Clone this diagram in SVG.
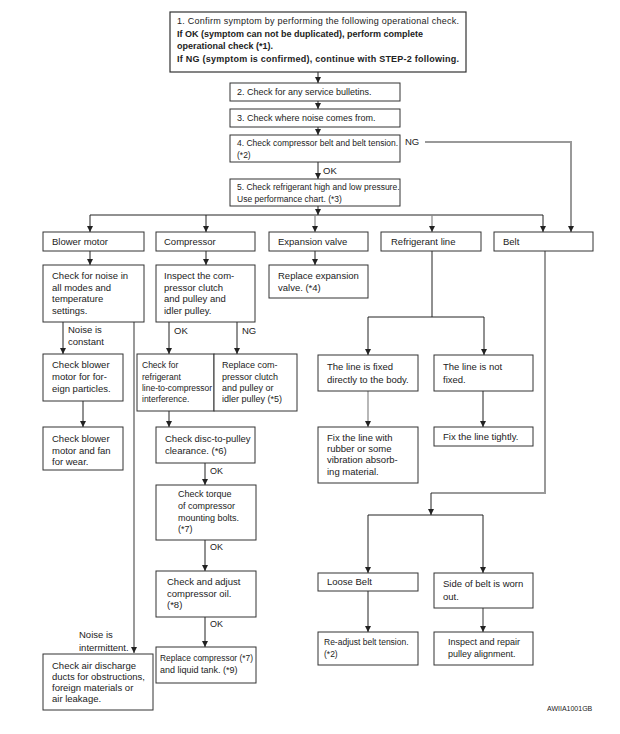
<svg xmlns="http://www.w3.org/2000/svg" width="620" height="734" viewBox="0 0 620 734">
<defs>
<marker id="ahd" markerWidth="6" markerHeight="6" refX="3" refY="6" markerUnits="userSpaceOnUse" viewBox="0 0 6 6">
<path d="M0,0 L6,0 L3,6 Z" fill="#222"/>
</marker>
<style>
rect{fill:#fff;stroke:#333;stroke-width:1}
text{font-family:"Liberation Sans",Arial,sans-serif;fill:#222;font-size:9.5px}
.s{font-size:8.5px}
.m{font-size:9px}
.b{font-weight:bold}
.t{font-size:7px}
.k{fill:none;stroke:#222;stroke-width:1}
.g{fill:none;stroke:#999;stroke-width:2}
.gt{fill:none;stroke:#888;stroke-width:1.2}
</style>
</defs>
<rect x="0" y="0" width="620" height="734" style="fill:#fff;stroke:none"/>

<g id="connectors">
<path class="k" d="M318,72 V83" marker-end="url(#ahd)"/>
<path class="k" d="M318,101 V109" marker-end="url(#ahd)"/>
<path class="k" d="M318,127 V135" marker-end="url(#ahd)"/>
<path class="k" d="M318,162 V179" marker-end="url(#ahd)"/>
<path class="g" d="M425,142 H571 V232" marker-end="url(#ahd)"/>
<path class="k" d="M318,206 V215" marker-end="url(#ahd)"/>
<path class="k" d="M90,215 H543"/>
<path class="k" d="M90,215 V232" marker-end="url(#ahd)"/>
<path class="k" d="M206,215 V232" marker-end="url(#ahd)"/>
<path class="gt" d="M315,215 V232" marker-end="url(#ahd)"/>
<path class="gt" d="M432,215 V232" marker-end="url(#ahd)"/>
<path class="k" d="M543,215 V232" marker-end="url(#ahd)"/>
<path class="k" d="M90,251 V265" marker-end="url(#ahd)"/>
<path class="k" d="M206,251 V265" marker-end="url(#ahd)"/>
<path class="k" d="M315,251 V265" marker-end="url(#ahd)"/>
<path class="k" d="M63,322 V354" marker-end="url(#ahd)"/>
<path class="k" d="M83,401 V427" marker-end="url(#ahd)"/>
<path class="g" d="M134,322 V653" marker-end="url(#ahd)"/>
<path class="k" d="M169,322 V354" marker-end="url(#ahd)"/>
<path class="k" d="M237,322 V354" marker-end="url(#ahd)"/>
<path class="k" d="M169,411 V427" marker-end="url(#ahd)"/>
<path class="k" d="M205,463 V485" marker-end="url(#ahd)"/>
<path class="k" d="M205,540 V571" marker-end="url(#ahd)"/>
<path class="k" d="M205,617 V647" marker-end="url(#ahd)"/>
<path class="k" d="M432,251 V317 M368,317 H484"/>
<path class="k" d="M368,317 V355" marker-end="url(#ahd)"/>
<path class="k" d="M484,317 V355" marker-end="url(#ahd)"/>
<path class="gt" d="M368,391 V427" marker-end="url(#ahd)"/>
<path class="k" d="M483,391 V427" marker-end="url(#ahd)"/>
<path class="g" d="M545,251 V493 H431"/>
<path class="k" d="M431,493 V515" marker-end="url(#ahd)"/>
<path class="k" d="M368,515 H483"/>
<path class="k" d="M368,515 V573" marker-end="url(#ahd)"/>
<path class="k" d="M483,515 V573" marker-end="url(#ahd)"/>
<path class="k" d="M368,591 V632" marker-end="url(#ahd)"/>
<path class="g" d="M483,608 V632" marker-end="url(#ahd)"/>
</g>

<g id="labels">
<text x="405" y="145">NG</text>
<text x="323" y="174">OK</text>
<text x="68" y="333">Noise is</text>
<text x="68" y="345">constant</text>
<text x="174" y="334">OK</text>
<text x="242" y="334">NG</text>
<text x="210" y="474" class="m">OK</text>
<text x="210" y="550" class="m">OK</text>
<text x="210" y="627" class="m">OK</text>
<text x="79" y="638">Noise is</text>
<text x="79" y="651">intermittent.</text>
<text x="547" y="711" class="t">AWIIA1001GB</text>
</g>

<g id="n1">
<rect x="170" y="12" width="296" height="60" style="stroke-width:1.2"/>
<text x="177" y="24" class="m" textLength="282">1. Confirm symptom by performing the following operational check.</text>
<text x="177" y="37" class="m b">If OK (symptom can not be duplicated), perform complete</text>
<text x="177" y="49" class="m b">operational check (*1).</text>
<text x="177" y="62" class="m b" textLength="282">If NG (symptom is confirmed), continue with STEP-2 following.</text>
</g>
<g id="n2"><rect x="230" y="83" width="170" height="18"/><text x="237" y="95" class="m">2. Check for any service bulletins.</text></g>
<g id="n3"><rect x="230" y="109" width="170" height="18"/><text x="237" y="121" class="m">3. Check where noise comes from.</text></g>
<g id="n4"><rect x="230" y="135" width="170" height="27"/><text x="237" y="146" class="s">4. Check compressor belt and belt tension.</text><text x="237" y="158" class="s">(*2)</text></g>
<g id="n5"><rect x="230" y="179" width="170" height="27"/><text x="237" y="190" class="s">5. Check refrigerant high and low pressure.</text><text x="237" y="202" class="s">Use performance chart. (*3)</text></g>

<g id="blower"><rect x="43" y="232" width="101" height="19"/><text x="52" y="245">Blower motor</text></g>
<g id="compressor"><rect x="156" y="232" width="99" height="19"/><text x="164" y="245">Compressor</text></g>
<g id="expansion"><rect x="269" y="232" width="99" height="19"/><text x="278" y="245">Expansion valve</text></g>
<g id="refline"><rect x="381" y="232" width="100" height="19"/><text x="391" y="245">Refrigerant line</text></g>
<g id="belt"><rect x="494" y="232" width="99" height="19"/><text x="503" y="245">Belt</text></g>

<g id="blower-check"><rect x="43" y="265" width="101" height="57"/>
<text x="52" y="279">Check for noise in</text><text x="52" y="291">all modes and</text><text x="52" y="302">temperature</text><text x="52" y="314">settings.</text></g>
<g id="comp-inspect"><rect x="156" y="265" width="99" height="57"/>
<text x="164" y="279">Inspect the com-</text><text x="164" y="291">pressor clutch</text><text x="164" y="302">and pulley and</text><text x="164" y="314">idler pulley.</text></g>
<g id="exp-replace"><rect x="269" y="265" width="99" height="33"/>
<text x="278" y="279">Replace expansion</text><text x="278" y="291">valve. (*4)</text></g>

<g id="blower-particles"><rect x="43" y="354" width="80" height="47"/>
<text x="52" y="368">Check blower</text><text x="52" y="380">motor for for-</text><text x="52" y="392">eign particles.</text></g>
<g id="blower-fan"><rect x="43" y="427" width="80" height="43"/>
<text x="52" y="442">Check blower</text><text x="52" y="454">motor and fan</text><text x="52" y="465">for wear.</text></g>
<g id="air-ducts"><rect x="43" y="654" width="110" height="56"/>
<text x="52" y="669">Check air discharge</text><text x="52" y="680">ducts for obstructions,</text><text x="52" y="691">foreign materials or</text><text x="52" y="702">air leakage.</text></g>

<g id="comp-interf"><rect x="137" y="354" width="77" height="57"/>
<text x="142" y="368" class="s">Check for</text><text x="142" y="380" class="s">refrigerant</text><text x="142" y="391" class="s" textLength="70">line-to-compressor</text><text x="142" y="402" class="s">interference.</text></g>
<g id="comp-replace-clutch"><rect x="214" y="354" width="83" height="57"/>
<text x="222" y="368" class="m">Replace com-</text><text x="222" y="380" class="m">pressor clutch</text><text x="222" y="391" class="m">and pulley or</text><text x="222" y="402" class="m">idler pulley (*5)</text></g>
<g id="comp-disc"><rect x="156" y="427" width="99" height="36"/>
<text x="165" y="442">Check disc-to-pulley</text><text x="165" y="454">clearance. (*6)</text></g>
<g id="comp-torque"><rect x="156" y="485" width="100" height="55"/>
<text x="178" y="497" class="m">Check torque</text><text x="178" y="509" class="m">of compressor</text><text x="178" y="521" class="m">mounting bolts.</text><text x="178" y="532" class="m">(*7)</text></g>
<g id="comp-oil"><rect x="156" y="571" width="100" height="46"/>
<text x="167" y="585">Check and adjust</text><text x="167" y="597">compressor oil.</text><text x="167" y="608">(*8)</text></g>
<g id="comp-replace"><rect x="156" y="647" width="100" height="36"/>
<text x="160" y="661" class="m" textLength="93" lengthAdjust="spacingAndGlyphs">Replace compressor (*7)</text><text x="160" y="673" class="m">and liquid tank. (*9)</text></g>

<g id="line-fixed"><rect x="318" y="355" width="100" height="36"/>
<text x="327" y="370">The line is fixed</text><text x="327" y="383">directly to the body.</text></g>
<g id="line-notfixed"><rect x="434" y="355" width="99" height="36"/>
<text x="443" y="370">The line is not</text><text x="443" y="383">fixed.</text></g>
<g id="fix-rubber"><rect x="318" y="427" width="100" height="56"/>
<text x="327" y="441">Fix the line with</text><text x="327" y="452">rubber or some</text><text x="327" y="463">vibration absorb-</text><text x="327" y="475">ing material.</text></g>
<g id="fix-tight"><rect x="434" y="427" width="99" height="19"/>
<text x="443" y="440">Fix the line tightly.</text></g>

<g id="loose-belt"><rect x="318" y="573" width="100" height="18"/><text x="327" y="585">Loose Belt</text></g>
<g id="side-belt"><rect x="434" y="573" width="99" height="35"/>
<text x="443" y="587">Side of belt is worn</text><text x="443" y="600">out.</text></g>
<g id="readjust"><rect x="318" y="632" width="100" height="33"/>
<text x="324" y="645" class="s">Re-adjust belt tension.</text><text x="324" y="657" class="s">(*2)</text></g>
<g id="pulley"><rect x="434" y="632" width="99" height="33"/>
<text x="448" y="645" class="m">Inspect and repair</text><text x="448" y="657" class="m">pulley alignment.</text></g>
</svg>
